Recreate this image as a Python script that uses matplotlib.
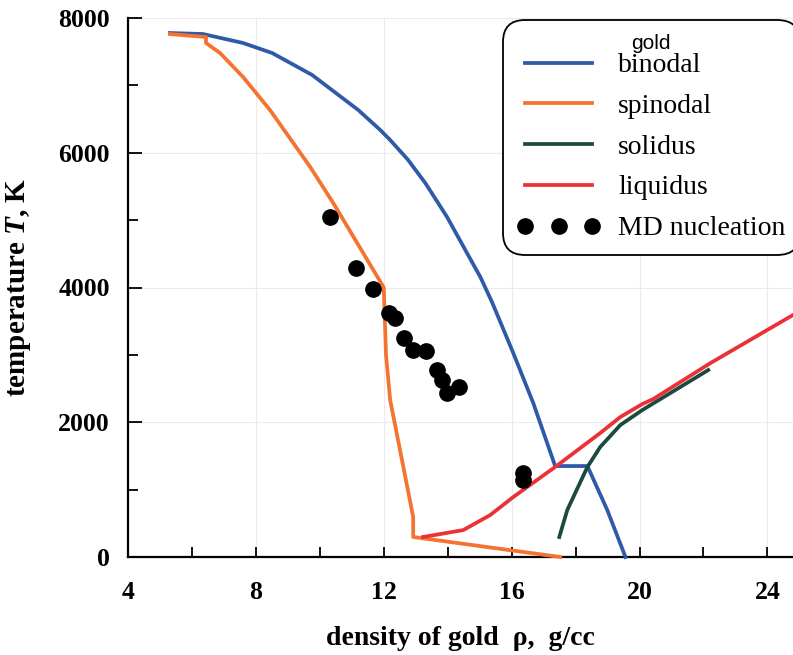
import matplotlib
matplotlib.use("Agg")
import matplotlib.pyplot as plt
from matplotlib.ticker import MultipleLocator

plt.rcParams["font.family"] = ["Liberation Serif", "DejaVu Serif"]
plt.rcParams["mathtext.fontset"] = "custom"
plt.rcParams["mathtext.rm"] = "Liberation Serif:bold"
plt.rcParams["mathtext.it"] = "Liberation Serif:italic:bold"
plt.rcParams["mathtext.bf"] = "Liberation Serif:bold"

BLUE, ORANGE, GREEN, RED = "#2e5aa8", "#f47330", "#1b4a40", "#ea3137"

# binodal
bin_rho = [5.31, 6.35, 7.6, 8.51, 9.76, 11.2, 11.89, 12.2, 12.75, 13.3, 13.98,
           14.55, 15.02, 15.38, 16.05, 16.68, 17.36, 18.37, 18.99, 19.56]
bin_T = [7777, 7762, 7629, 7480, 7154, 6635, 6338, 6189, 5900, 5550, 5046,
         4557, 4156, 3790, 3028, 2280, 1350, 1350, 698, 0]

# spinodal
spin_rho = [5.31, 6.44, 6.44, 6.88, 7.6, 8.44, 9.7, 10.42, 12.0, 12.07, 12.2,
            12.92, 12.92, 17.52]
spin_T = [7762, 7718, 7629, 7480, 7124, 6635, 5788, 5254, 4000, 3000, 2330,
          594, 297, 0]

# solidus
sol_rho = [17.49, 17.74, 18.37, 18.77, 19.4, 20.09, 22.15]
sol_T = [297, 698, 1336, 1633, 1959, 2182, 2775]

# liquidus
liq_rho = [13.23, 14.49, 15.33, 16.05, 17.36, 18.77, 19.4, 20.09, 20.43, 22.22, 24.8]
liq_T = [297, 400, 623, 890, 1336, 1840, 2078, 2271, 2345, 2879, 3592]

# MD nucleation points
md_rho = [10.32, 11.14, 11.67, 12.17, 12.36, 12.64, 12.92, 13.33, 13.67, 13.83,
          13.98, 14.36, 16.36, 16.36]
md_T = [5046, 4290, 3978, 3622, 3547, 3250, 3072, 3058, 2775, 2627,
        2434, 2523, 1247, 1143]

fig = plt.figure(figsize=(7.93, 6.55), dpi=100)
ax = fig.add_axes([128 / 793, 98 / 655, 665 / 793, 539 / 655])

lw = 2.7
ax.plot(bin_rho, bin_T, color=BLUE, lw=lw, label="binodal", clip_on=False, zorder=3)
ax.plot(spin_rho, spin_T, color=ORANGE, lw=lw, label="spinodal", clip_on=False, zorder=3)
ax.plot(sol_rho, sol_T, color=GREEN, lw=lw, label="solidus", clip_on=False, zorder=3)
ax.plot(liq_rho, liq_T, color=RED, lw=lw, label="liquidus", zorder=4)
ax.plot(md_rho, md_T, "o", color="black", ms=11, label="MD nucleation", zorder=5)

ax.set_xlim(4, 24.8)
ax.set_ylim(0, 8000)
ax.xaxis.set_major_locator(MultipleLocator(4))
ax.xaxis.set_minor_locator(MultipleLocator(2))
ax.yaxis.set_major_locator(MultipleLocator(2000))
ax.yaxis.set_minor_locator(MultipleLocator(1000))
ax.grid(True, which="major", color="#ebebeb", lw=0.8, zorder=0)
ax.set_axisbelow(True)

for s in ["top", "right"]:
    ax.spines[s].set_visible(False)
for s in ["left", "bottom"]:
    ax.spines[s].set_linewidth(1.6)

ax.tick_params(axis="both", which="both", direction="in", width=1.3)
ax.tick_params(axis="x", which="both", length=7, pad=17)
ax.tick_params(axis="y", which="major", length=10, pad=13)
ax.tick_params(axis="y", which="minor", length=7)
for lab in ax.get_xticklabels() + ax.get_yticklabels():
    lab.set_fontsize(18.5)
    lab.set_fontweight("bold")

ax.set_xlabel("density of gold  ρ,  g/cc", fontsize=20, fontweight="bold")
ax.xaxis.set_label_coords(0.5, -0.128)
ax.set_ylabel(r"temperature $T$, K", fontsize=21, fontweight="bold")
ax.yaxis.set_label_coords(-0.143, 0.5)

leg = ax.legend(loc="upper left", bbox_to_anchor=(503 / 793, 1 - 20 / 655),
                bbox_transform=fig.transFigure, borderaxespad=0, title="gold",
                title_fontproperties={"family": "Liberation Sans", "size": 15},
                prop={"family": "Liberation Serif", "size": 20}, numpoints=3,
                handlelength=3.0, handletextpad=0.65, labelspacing=0.55,
                borderpad=0.5, fancybox=True, framealpha=1, edgecolor="black")
leg._legend_box.sep = 0
leg.get_frame().set_linewidth(1.3)
leg.get_frame().set_boxstyle("round", pad=0, rounding_size=0.8)

fig.savefig("out.png", dpi=100)
